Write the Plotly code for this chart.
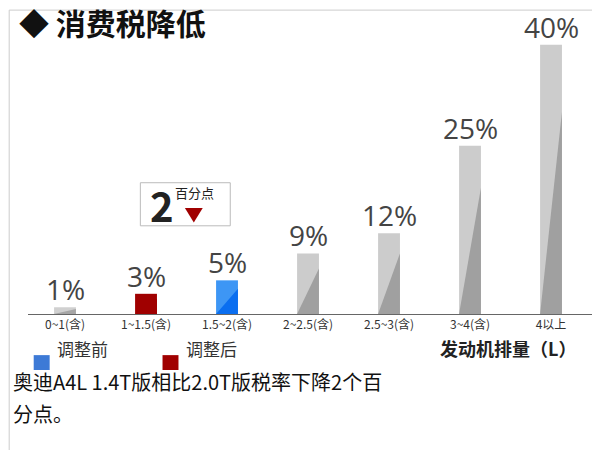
import plotly.graph_objects as go

categories = ["0~1(含)", "1~1.5(含)", "1.5~2(含)", "2~2.5(含)", "2.5~3(含)", "3~4(含)", "4以上"]
values = [1, 3, 5, 9, 12, 25, 40]
light = ["#d0d0d0", "#a00000", "#3d96f5", "#cccccc", "#cccccc", "#cccccc", "#cccccc"]
dark = ["#a6a6a6", "#a00000", "#0a6ef0", "#a0a0a0", "#a0a0a0", "#a0a0a0", "#a0a0a0"]
W = 0.27
F = "Noto Sans CJK SC"

fig = go.Figure()
xs = list(range(len(categories)))
fig.add_bar(x=xs, y=values, width=W, marker=dict(color=light, line=dict(width=0)))
for i, v in enumerate(values):
    fig.add_scatter(x=[i - W / 2, i + W / 2, i + W / 2, i - W / 2], y=[0, 0, v * 0.75, 0],
                    fill="toself", fillcolor=dark[i], line=dict(width=0), mode="lines",
                    hoverinfo="skip")
    fig.add_annotation(x=i, y=v, text=f"{v}%", showarrow=False, yanchor="bottom", yshift=-3,
                       font=dict(size=28, color="#444", family="Open Sans"))

fig.update_layout(
    width=600, height=450, showlegend=False, plot_bgcolor="white", paper_bgcolor="white",
    margin=dict(l=20, r=10, t=30, b=144),
    xaxis=dict(range=[-0.457, 6.58], tickvals=xs, ticktext=categories, showgrid=False,
               showline=True, linecolor="#666", linewidth=1, zeroline=False,
               tickfont=dict(size=12, color="#333", family=F), ticks=""),
    yaxis=dict(range=[0, 41], visible=False),
    font=dict(family=F),
    shapes=[
        dict(type="rect", xref="paper", yref="paper", x0=-0.033, x1=1.014, y0=-0.514, y1=1.101,
             line=dict(color="#ccc", width=1)),
        dict(type="rect", xref="x", yref="y", x0=0.93, x1=2.04, y0=13.1, y1=19.5,
             line=dict(color="#bbb", width=1), fillcolor="white"),
        dict(type="path", xref="x", yref="y", path="M 1.48 15.75 L 1.70 15.75 L 1.59 13.6 Z",
             fillcolor="#a00000", line=dict(width=0)),
        dict(type="rect", xref="paper", yref="paper", x0=0.01, x1=0.038, y0=-0.203, y1=-0.149,
             fillcolor="#3d7ad6", line=dict(width=0)),
        dict(type="rect", xref="paper", yref="paper", x0=0.236, x1=0.264, y0=-0.203, y1=-0.149,
             fillcolor="#a00000", line=dict(width=0)),
    ],
)
ann = [
    dict(xref="paper", yref="paper", x=-0.02, y=1.058, text="◆ <b>消费税降低</b>", font=dict(size=30, color="#111"), xanchor="left", yanchor="middle"),
    dict(xref="x", yref="y", x=1.2, y=16.2, text="<b>2</b>", font=dict(size=40, color="#222")),
    dict(xref="x", yref="y", x=1.6, y=18.0, text="百分点", font=dict(size=13, color="#222")),
    dict(xref="paper", yref="paper", x=0.047, y=-0.178, text="调整前", font=dict(size=17, color="#333"), xanchor="left"),
    dict(xref="paper", yref="paper", x=0.273, y=-0.178, text="调整后", font=dict(size=17, color="#333"), xanchor="left"),
    dict(xref="paper", yref="paper", x=0.965, y=-0.178, text="<b>发动机排量（L）</b>", font=dict(size=18, color="#222"), xanchor="right"),
    dict(xref="paper", yref="paper", x=-0.03, y=-0.304, text="奥迪A4L 1.4T版相比2.0T版税率下降2个百", font=dict(size=20, color="#111"), xanchor="left"),
    dict(xref="paper", yref="paper", x=-0.03, y=-0.42, text="分点。", font=dict(size=20, color="#111"), xanchor="left"),
]
for a in ann:
    a["showarrow"] = False
    fig.add_annotation(**a)
fig.write_html("out.html")
